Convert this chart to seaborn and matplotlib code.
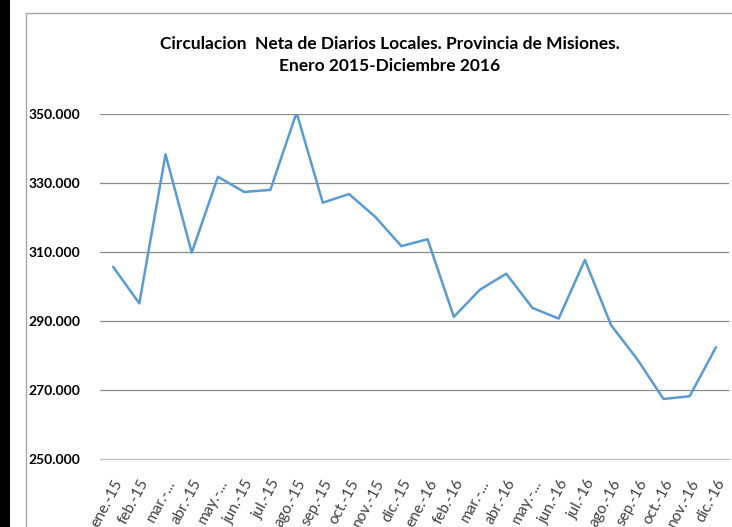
import numpy as np
import pandas as pd
import matplotlib
matplotlib.use("Agg")
import matplotlib.pyplot as plt
from matplotlib.patches import Rectangle
import seaborn as sns

months = ["ene.-15", "feb.-15", "mar.-...", "abr.-15", "may.-...", "jun.-15", "jul.-15",
          "ago.-15", "sep.-15", "oct.-15", "nov.-15", "dic.-15", "ene.-16", "feb.-16",
          "mar.-...", "abr.-16", "may.-...", "jun.-16", "jul.-16", "ago.-16", "sep.-16",
          "oct.-16", "nov.-16", "dic.-16"]
circulacion = [305700, 295100, 338300, 309800, 331800, 327400, 328000, 350400,
               324300, 326800, 320200, 311700, 313700, 291200, 299100, 303700,
               293800, 290700, 307700, 288800, 278900, 267400, 268200, 282400]
yticks = [250000, 270000, 290000, 310000, 330000, 350000]
ytick_labels = ["250.000", "270.000", "290.000", "310.000", "330.000", "350.000"]
title = "Circulacion  Neta de Diarios Locales. Provincia de Misiones.\nEnero 2015-Diciembre 2016"

sns.set_theme(style="white")
plt.rcParams["font.family"] = ["Lato", "DejaVu Sans"]

W, H = 732, 527
fig = plt.figure(figsize=(W / 100, H / 100), dpi=100)
ax = fig.add_axes([100 / W, (H - 459) / H, (729 - 100) / W, (459 - 114) / H])

df = pd.DataFrame({"pos": np.arange(len(months)), "val": circulacion})
sns.lineplot(data=df, x="pos", y="val", ax=ax, sort=False, color="#5B9BD5", linewidth=1.8)

ax.set_xlim(-0.5, len(months) - 0.5)
ax.set_ylim(yticks[0], yticks[-1])
ax.set_yticks(yticks)
ax.set_yticklabels(ytick_labels, fontsize=10, fontweight="bold", color="#000000")
ax.set_xticks(np.arange(len(months)))
ax.set_xticklabels(months, rotation=62, ha="right", va="top", rotation_mode="anchor",
                   fontsize=11, color="#404040")
ax.set_xticks(np.arange(len(months) + 1) - 0.5, minor=True)
ax.tick_params(axis="x", which="major", length=0, pad=13)
ax.tick_params(axis="x", which="minor", length=5, width=0.8, color="#bfbfbf", direction="out")
ax.tick_params(axis="y", length=0, pad=14)
ax.set_xlabel("")
ax.set_ylabel("")

for y in yticks[1:]:
    ax.axhline(y, color="#8c8c8c", linewidth=0.9, zorder=0)

for s in ["left", "right", "top"]:
    ax.spines[s].set_visible(False)
ax.spines["bottom"].set_color("#bfbfbf")
ax.spines["bottom"].set_linewidth(0.9)

fig.text(390 / W, 1 - 55 / H, title, ha="center", va="center", fontsize=12.5,
         fontweight="bold", color="#000000", linespacing=1.45)

# outer chart frame and dark left edge
fig.patches.append(Rectangle((26 / W, -0.1), 1.0, (H - 13) / H + 0.1, transform=fig.transFigure,
                             fill=False, edgecolor="#a6a6a6", linewidth=1.0))
fig.patches.append(Rectangle((0, 0), 10 / W, 1, transform=fig.transFigure,
                             facecolor="#000000", edgecolor="none"))

fig.savefig("out.png", dpi=100)
